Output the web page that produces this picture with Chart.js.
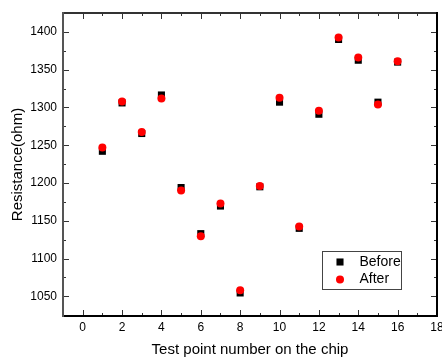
<!DOCTYPE html>
<html>
<head>
<meta charset="utf-8">
<script src="https://cdn.jsdelivr.net/npm/chart.js@4/dist/chart.umd.min.js"></script>
<style>
  html, body { margin: 0; padding: 0; background: #fff; }
  canvas { display: block; }
</style>
</head>
<body>
<canvas id="chart" width="442" height="361"></canvas>
<script>
// values
const points = [1, 2, 3, 4, 5, 6, 7, 8, 9, 10, 11, 12, 13, 14, 15, 16];
const before = [1242, 1306, 1265.5, 1316.5, 1194, 1133, 1169.5, 1054.5, 1195, 1307, 1140, 1291, 1390, 1362.5, 1307, 1360];
const after = [1247, 1308, 1267.5, 1312, 1190, 1129.5, 1173, 1058, 1196, 1313, 1142.5, 1295.5, 1392.5, 1366, 1304, 1361];
const seriesNames = ['Before', 'After'];
const xTicks = [0, 2, 4, 6, 8, 10, 12, 14, 16, 18];
const yTicks = [1050, 1100, 1150, 1200, 1250, 1300, 1350, 1400];
const xTitle = 'Test point number on the chip';
const yTitle = 'Resistance(ohm)';

const FONT = "'Liberation Sans', Arial, sans-serif";

const toXY = (vals) => points.map((p, i) => ({ x: p, y: vals[i] }));

// half-way positions between major ticks, for the small tick marks
const minors = (scale, vals) => {
  const step = vals[1] - vals[0];
  const out = [];
  for (let v = vals[0] - step / 2; v < scale.max; v += step) {
    if (v > scale.min && v < scale.max) out.push(v);
  }
  return out;
};

// frame plus inward major / minor ticks on all four sides
const framePlugin = {
  id: 'frame',
  afterDraw(chart) {
    const { ctx, chartArea: a, scales } = chart;
    const xs = scales.x, ys = scales.y;
    const L = Math.round(a.left), R = Math.round(a.right);
    const T = Math.round(a.top), B = Math.round(a.bottom);

    ctx.save();
    ctx.fillStyle = '#333333';
    xTicks.forEach(v => {
      const px = Math.round(xs.getPixelForValue(v));
      ctx.fillRect(px, B - 6, 1, 6);
      ctx.fillRect(px, T, 1, 6);
    });
    minors(xs, xTicks).forEach(v => {
      const px = Math.round(xs.getPixelForValue(v));
      ctx.fillRect(px, B - 3, 1, 3);
      ctx.fillRect(px, T, 1, 3);
    });
    yTicks.forEach(v => {
      const py = Math.round(ys.getPixelForValue(v));
      ctx.fillRect(L, py, 6, 1);
      ctx.fillRect(R - 6, py, 6, 1);
    });
    minors(ys, yTicks).forEach(v => {
      const py = Math.round(ys.getPixelForValue(v));
      ctx.fillRect(L, py, 3, 1);
      ctx.fillRect(R - 3, py, 3, 1);
    });

    // frame
    ctx.fillStyle = '#333333';
    ctx.fillRect(L, T - 1, R - L, 2);
    ctx.fillStyle = '#000000';
    ctx.fillRect(R - 1, T - 1, 2, B - T + 2);
    ctx.fillRect(L - 1, B - 1, R - L + 2, 2);
    ctx.fillStyle = '#555555';
    ctx.fillRect(L - 1, T - 1, 2, B - T + 2);
    ctx.restore();
  }
};

// boxed legend in the lower right of the plot
const legendBox = {
  id: 'legendBox',
  afterDatasetsDraw(chart) {
    const { ctx, chartArea: a } = chart;
    const right = a.right - 35.5, bottom = a.bottom - 26.5;
    const w = 79, h = 38;
    const left = right - w, top = bottom - h;

    ctx.save();
    ctx.fillStyle = '#fff';
    ctx.fillRect(left, top, w, h);
    ctx.lineWidth = 1;
    ctx.strokeStyle = '#444';
    ctx.strokeRect(left, top, w, h);

    ctx.font = '14px ' + FONT;
    ctx.textBaseline = 'middle';
    ctx.textAlign = 'left';
    chart.data.datasets.forEach((ds, i) => {
      const y = top + 10.5 + i * 17.5;
      ctx.fillStyle = ds.backgroundColor;
      Chart.helpers.drawPoint(ctx, {
        pointStyle: ds.pointStyle,
        radius: ds.pointRadius,
        borderWidth: 0,
        rotation: 0
      }, left + 17.5, y);
      ctx.fillStyle = '#000';
      ctx.fillText(ds.label, left + 37, y);
    });
    ctx.restore();
  }
};

const ctx = document.getElementById('chart').getContext('2d');

new Chart(ctx, {
  type: 'scatter',
  data: {
    datasets: [
      {
        label: seriesNames[0],
        data: toXY(before),
        pointStyle: 'rect',
        pointRadius: 5,
        pointBorderWidth: 0,
        backgroundColor: '#000000',
        borderColor: '#000000',
        order: 2
      },
      {
        label: seriesNames[1],
        data: toXY(after),
        pointStyle: 'circle',
        pointRadius: 4,
        pointBorderWidth: 0,
        backgroundColor: '#ff0000',
        borderColor: '#ff0000',
        order: 1
      }
    ]
  },
  options: {
    responsive: false,
    animation: false,
    devicePixelRatio: 1,
    layout: { padding: { left: 0, top: 13, right: 5, bottom: 0 } },
    plugins: {
      legend: { display: false },
      tooltip: { enabled: false }
    },
    scales: {
      x: {
        type: 'linear',
        position: 'bottom',
        min: -1,
        max: 18,
        grid: { display: false, drawTicks: false, tickLength: 0 },
        border: { display: false },
        ticks: {
          autoSkip: false,
          padding: 4,
          color: '#000',
          maxRotation: 0,
          font: { family: FONT, size: 12 }
        },
        title: {
          display: true,
          text: xTitle,
          color: '#000',
          padding: { top: 0, bottom: 2 },
          font: { family: FONT, size: 15 }
        },
        afterBuildTicks(scale) {
          scale.ticks = xTicks.map(v => ({ value: v }));
        },
        afterFit(scale) {
          scale.height = 45;
          scale.paddingLeft = 0;
          scale.paddingRight = 0;
        }
      },
      y: {
        type: 'linear',
        position: 'left',
        min: 1024,
        max: 1425,
        grid: { display: false, drawTicks: false, tickLength: 0 },
        border: { display: false },
        ticks: {
          autoSkip: false,
          padding: 6,
          color: '#000',
          font: { family: FONT, size: 12 },
          callback: (v) => String(v)
        },
        title: {
          display: true,
          text: yTitle,
          color: '#000',
          padding: { top: 9, bottom: 0 },
          font: { family: FONT, size: 15 }
        },
        afterBuildTicks(scale) {
          scale.ticks = yTicks.map(v => ({ value: v }));
        },
        afterFit(scale) {
          scale.width = 63;
          scale.paddingTop = 0;
          scale.paddingBottom = 0;
        }
      }
    }
  },
  plugins: [framePlugin, legendBox]
});
</script>
</body>
</html>
